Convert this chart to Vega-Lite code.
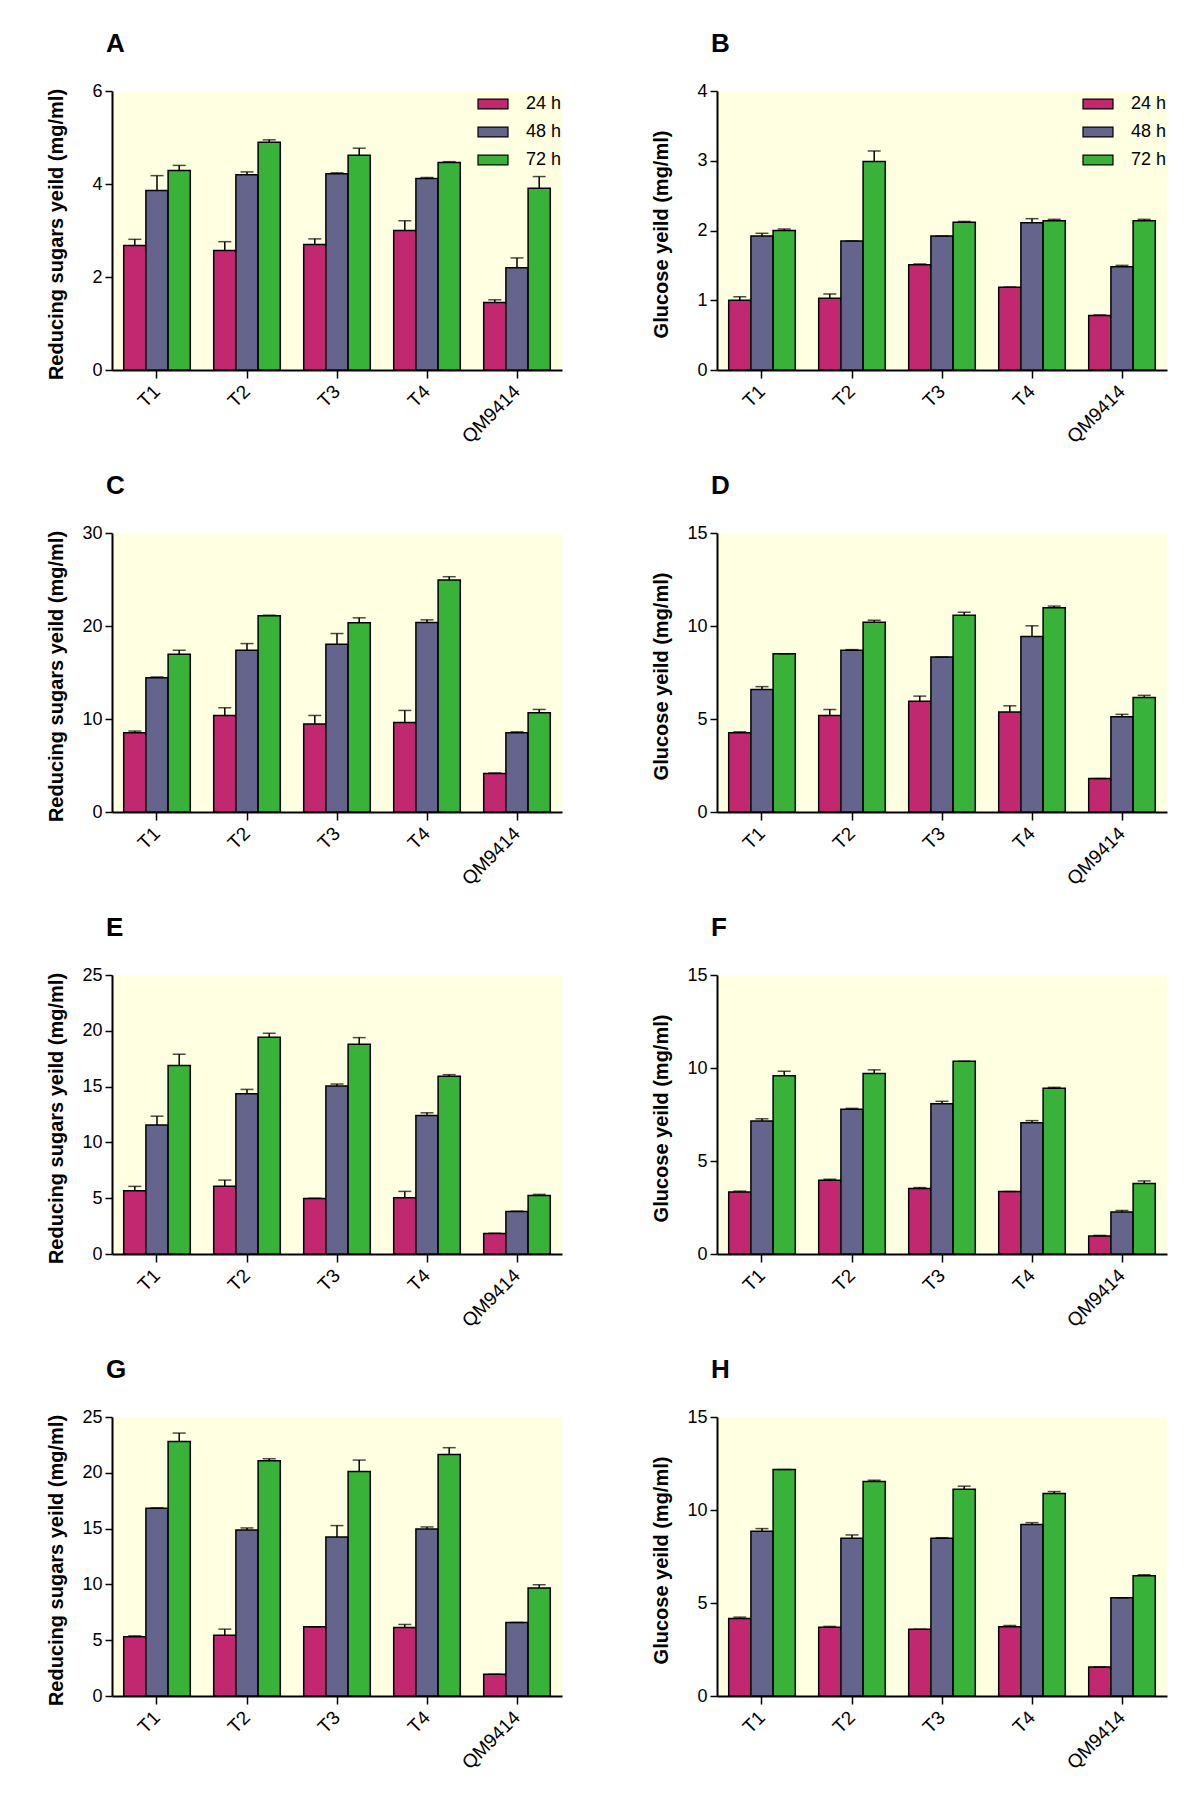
{
"$schema": "https://vega.github.io/schema/vega-lite/v6.json",
"padding": {"left": 45, "top": 31, "right": 10, "bottom": 10},
"background": "white",
"datasets": {"d": [
{"p":"A","s":"T1","t":"24 h","v":2.68,"u":2.81},{"p":"A","s":"T1","t":"48 h","v":3.86,"u":4.18},{"p":"A","s":"T1","t":"72 h","v":4.29,"u":4.40},
{"p":"A","s":"T2","t":"24 h","v":2.57,"u":2.76},{"p":"A","s":"T2","t":"48 h","v":4.20,"u":4.26},{"p":"A","s":"T2","t":"72 h","v":4.90,"u":4.95},
{"p":"A","s":"T3","t":"24 h","v":2.70,"u":2.82},{"p":"A","s":"T3","t":"48 h","v":4.22,"u":4.24},{"p":"A","s":"T3","t":"72 h","v":4.62,"u":4.77},
{"p":"A","s":"T4","t":"24 h","v":3.00,"u":3.21},{"p":"A","s":"T4","t":"48 h","v":4.12,"u":4.14},{"p":"A","s":"T4","t":"72 h","v":4.46,"u":4.48},
{"p":"A","s":"QM9414","t":"24 h","v":1.45,"u":1.51},{"p":"A","s":"QM9414","t":"48 h","v":2.20,"u":2.41},{"p":"A","s":"QM9414","t":"72 h","v":3.91,"u":4.16},
{"p":"B","s":"T1","t":"24 h","v":1.00,"u":1.05},{"p":"B","s":"T1","t":"48 h","v":1.92,"u":1.96},{"p":"B","s":"T1","t":"72 h","v":2.00,"u":2.02},
{"p":"B","s":"T2","t":"24 h","v":1.03,"u":1.09},{"p":"B","s":"T2","t":"48 h","v":1.85,"u":1.85},{"p":"B","s":"T2","t":"72 h","v":2.99,"u":3.14},
{"p":"B","s":"T3","t":"24 h","v":1.51,"u":1.52},{"p":"B","s":"T3","t":"48 h","v":1.92,"u":1.92},{"p":"B","s":"T3","t":"72 h","v":2.12,"u":2.13},
{"p":"B","s":"T4","t":"24 h","v":1.185,"u":1.19},{"p":"B","s":"T4","t":"48 h","v":2.11,"u":2.17},{"p":"B","s":"T4","t":"72 h","v":2.14,"u":2.16},
{"p":"B","s":"QM9414","t":"24 h","v":0.78,"u":0.79},{"p":"B","s":"QM9414","t":"48 h","v":1.48,"u":1.50},{"p":"B","s":"QM9414","t":"72 h","v":2.14,"u":2.16},
{"p":"C","s":"T1","t":"24 h","v":8.52,"u":8.70},{"p":"C","s":"T1","t":"48 h","v":14.44,"u":14.52},{"p":"C","s":"T1","t":"72 h","v":16.96,"u":17.39},
{"p":"C","s":"T2","t":"24 h","v":10.38,"u":11.21},{"p":"C","s":"T2","t":"48 h","v":17.39,"u":18.11},{"p":"C","s":"T2","t":"72 h","v":21.09,"u":21.16},
{"p":"C","s":"T3","t":"24 h","v":9.45,"u":10.38},{"p":"C","s":"T3","t":"48 h","v":18.04,"u":19.19},{"p":"C","s":"T3","t":"72 h","v":20.34,"u":20.88},
{"p":"C","s":"T4","t":"24 h","v":9.63,"u":10.92},{"p":"C","s":"T4","t":"48 h","v":20.37,"u":20.66},{"p":"C","s":"T4","t":"72 h","v":24.94,"u":25.30},
{"p":"C","s":"QM9414","t":"24 h","v":4.13,"u":4.20},{"p":"C","s":"QM9414","t":"48 h","v":8.52,"u":8.62},{"p":"C","s":"QM9414","t":"72 h","v":10.67,"u":11.03},
{"p":"D","s":"T1","t":"24 h","v":4.26,"u":4.31},{"p":"D","s":"T1","t":"48 h","v":6.59,"u":6.74},{"p":"D","s":"T1","t":"72 h","v":8.51,"u":8.51},
{"p":"D","s":"T2","t":"24 h","v":5.19,"u":5.51},{"p":"D","s":"T2","t":"48 h","v":8.69,"u":8.73},{"p":"D","s":"T2","t":"72 h","v":10.20,"u":10.31},
{"p":"D","s":"T3","t":"24 h","v":5.96,"u":6.23},{"p":"D","s":"T3","t":"48 h","v":8.33,"u":8.33},{"p":"D","s":"T3","t":"72 h","v":10.58,"u":10.74},
{"p":"D","s":"T4","t":"24 h","v":5.37,"u":5.71},{"p":"D","s":"T4","t":"48 h","v":9.43,"u":10.01},{"p":"D","s":"T4","t":"72 h","v":10.98,"u":11.07},
{"p":"D","s":"QM9414","t":"24 h","v":1.80,"u":1.80},{"p":"D","s":"QM9414","t":"48 h","v":5.12,"u":5.25},{"p":"D","s":"QM9414","t":"72 h","v":6.16,"u":6.27},
{"p":"E","s":"T1","t":"24 h","v":5.67,"u":6.06},{"p":"E","s":"T1","t":"48 h","v":11.57,"u":12.35},{"p":"E","s":"T1","t":"72 h","v":16.88,"u":17.90},
{"p":"E","s":"T2","t":"24 h","v":6.06,"u":6.62},{"p":"E","s":"T2","t":"48 h","v":14.36,"u":14.75},{"p":"E","s":"T2","t":"72 h","v":19.42,"u":19.78},
{"p":"E","s":"T3","t":"24 h","v":4.98,"u":5.00},{"p":"E","s":"T3","t":"48 h","v":15.05,"u":15.23},{"p":"E","s":"T3","t":"72 h","v":18.80,"u":19.39},
{"p":"E","s":"T4","t":"24 h","v":5.04,"u":5.61},{"p":"E","s":"T4","t":"48 h","v":12.41,"u":12.65},{"p":"E","s":"T4","t":"72 h","v":15.92,"u":16.07},
{"p":"E","s":"QM9414","t":"24 h","v":1.83,"u":1.86},{"p":"E","s":"QM9414","t":"48 h","v":3.81,"u":3.84},{"p":"E","s":"QM9414","t":"72 h","v":5.25,"u":5.34},
{"p":"F","s":"T1","t":"24 h","v":3.34,"u":3.38},{"p":"F","s":"T1","t":"48 h","v":7.15,"u":7.27},{"p":"F","s":"T1","t":"72 h","v":9.59,"u":9.83},
{"p":"F","s":"T2","t":"24 h","v":3.97,"u":4.02},{"p":"F","s":"T2","t":"48 h","v":7.78,"u":7.83},{"p":"F","s":"T2","t":"72 h","v":9.70,"u":9.90},
{"p":"F","s":"T3","t":"24 h","v":3.52,"u":3.57},{"p":"F","s":"T3","t":"48 h","v":8.08,"u":8.21},{"p":"F","s":"T3","t":"72 h","v":10.36,"u":10.36},
{"p":"F","s":"T4","t":"24 h","v":3.36,"u":3.36},{"p":"F","s":"T4","t":"48 h","v":7.06,"u":7.17},{"p":"F","s":"T4","t":"72 h","v":8.91,"u":8.96},
{"p":"F","s":"QM9414","t":"24 h","v":0.97,"u":1.00},{"p":"F","s":"QM9414","t":"48 h","v":2.26,"u":2.34},{"p":"F","s":"QM9414","t":"72 h","v":3.79,"u":3.93},
{"p":"G","s":"T1","t":"24 h","v":5.30,"u":5.39},{"p":"G","s":"T1","t":"48 h","v":16.83,"u":16.86},{"p":"G","s":"T1","t":"72 h","v":22.81,"u":23.56},
{"p":"G","s":"T2","t":"24 h","v":5.45,"u":5.99},{"p":"G","s":"T2","t":"48 h","v":14.88,"u":15.06},{"p":"G","s":"T2","t":"72 h","v":21.08,"u":21.26},
{"p":"G","s":"T3","t":"24 h","v":6.20,"u":6.20},{"p":"G","s":"T3","t":"48 h","v":14.25,"u":15.27},{"p":"G","s":"T3","t":"72 h","v":20.12,"u":21.14},
{"p":"G","s":"T4","t":"24 h","v":6.14,"u":6.41},{"p":"G","s":"T4","t":"48 h","v":14.97,"u":15.15},{"p":"G","s":"T4","t":"72 h","v":21.65,"u":22.25},
{"p":"G","s":"QM9414","t":"24 h","v":1.95,"u":1.95},{"p":"G","s":"QM9414","t":"48 h","v":6.59,"u":6.59},{"p":"G","s":"QM9414","t":"72 h","v":9.67,"u":9.97},
{"p":"H","s":"T1","t":"24 h","v":4.17,"u":4.24},{"p":"H","s":"T1","t":"48 h","v":8.86,"u":9.00},{"p":"H","s":"T1","t":"72 h","v":12.18,"u":12.18},
{"p":"H","s":"T2","t":"24 h","v":3.70,"u":3.74},{"p":"H","s":"T2","t":"48 h","v":8.48,"u":8.66},{"p":"H","s":"T2","t":"72 h","v":11.53,"u":11.60},
{"p":"H","s":"T3","t":"24 h","v":3.59,"u":3.59},{"p":"H","s":"T3","t":"48 h","v":8.48,"u":8.51},{"p":"H","s":"T3","t":"72 h","v":11.12,"u":11.28},
{"p":"H","s":"T4","t":"24 h","v":3.72,"u":3.79},{"p":"H","s":"T4","t":"48 h","v":9.22,"u":9.32},{"p":"H","s":"T4","t":"72 h","v":10.89,"u":10.99},
{"p":"H","s":"QM9414","t":"24 h","v":1.56,"u":1.56},{"p":"H","s":"QM9414","t":"48 h","v":5.28,"u":5.28},{"p":"H","s":"QM9414","t":"72 h","v":6.47,"u":6.52}
]},
"data": {"name": "d"},
"columns": 2,
"bounds": "flush",
"spacing": {"row": 163, "column": 155},
"resolve": {"scale": {"color": "independent"}, "legend": {"color": "independent"}},
"concat": [
{"title": "A", "width": 450, "height": 279, "transform": [{"filter": "datum.p === 'A'"}],
 "encoding": {"x": {"field": "s", "type": "nominal", "sort": ["T1","T2","T3","T4","QM9414"], "title": null, "scale": {"paddingInner": 0.26, "paddingOuter": 0.13}}, "xOffset": {"field": "t", "type": "nominal"}},
 "layer": [
  {"mark": {"type": "bar", "stroke": "black", "strokeWidth": 1.5}, "encoding": {"y": {"field": "v", "type": "quantitative", "scale": {"domain": [0, 6], "nice": false}, "axis": {"values": [0,2,4,6], "format": "d"}, "title": "Reducing sugars yeild (mg/ml)"}, "color": {"field": "t", "type": "nominal", "scale": {"domain": ["24 h","48 h","72 h"], "range": ["#C2286F","#64648C","#38B238"]}, "legend": {"orient": "none", "legendX": 365, "legendY": -3, "title": null}}}},
  {"mark": {"type": "rule", "color": "black", "strokeWidth": 1.5}, "encoding": {"y": {"field": "v", "type": "quantitative", "title": "Reducing sugars yeild (mg/ml)"}, "y2": {"field": "u"}}},
  {"mark": {"type": "tick", "color": "black", "size": 13, "thickness": 1.5}, "encoding": {"y": {"field": "u", "type": "quantitative", "title": "Reducing sugars yeild (mg/ml)"}}}
 ]},
{"title": "B", "width": 450, "height": 279, "transform": [{"filter": "datum.p === 'B'"}],
 "encoding": {"x": {"field": "s", "type": "nominal", "sort": ["T1","T2","T3","T4","QM9414"], "title": null, "scale": {"paddingInner": 0.26, "paddingOuter": 0.13}}, "xOffset": {"field": "t", "type": "nominal"}},
 "layer": [
  {"mark": {"type": "bar", "stroke": "black", "strokeWidth": 1.5}, "encoding": {"y": {"field": "v", "type": "quantitative", "scale": {"domain": [0, 4], "nice": false}, "axis": {"values": [0,1,2,3,4], "format": "d"}, "title": "Glucose yeild (mg/ml)"}, "color": {"field": "t", "type": "nominal", "scale": {"domain": ["24 h","48 h","72 h"], "range": ["#C2286F","#64648C","#38B238"]}, "legend": {"orient": "none", "legendX": 365, "legendY": -3, "title": null}}}},
  {"mark": {"type": "rule", "color": "black", "strokeWidth": 1.5}, "encoding": {"y": {"field": "v", "type": "quantitative", "title": "Glucose yeild (mg/ml)"}, "y2": {"field": "u"}}},
  {"mark": {"type": "tick", "color": "black", "size": 13, "thickness": 1.5}, "encoding": {"y": {"field": "u", "type": "quantitative", "title": "Glucose yeild (mg/ml)"}}}
 ]},
{"title": "C", "width": 450, "height": 279, "transform": [{"filter": "datum.p === 'C'"}],
 "encoding": {"x": {"field": "s", "type": "nominal", "sort": ["T1","T2","T3","T4","QM9414"], "title": null, "scale": {"paddingInner": 0.26, "paddingOuter": 0.13}}, "xOffset": {"field": "t", "type": "nominal"}},
 "layer": [
  {"mark": {"type": "bar", "stroke": "black", "strokeWidth": 1.5}, "encoding": {"y": {"field": "v", "type": "quantitative", "scale": {"domain": [0, 30], "nice": false}, "axis": {"values": [0,10,20,30], "format": "d"}, "title": "Reducing sugars yeild (mg/ml)"}, "color": {"field": "t", "type": "nominal", "scale": {"domain": ["24 h","48 h","72 h"], "range": ["#C2286F","#64648C","#38B238"]}, "legend": null}}},
  {"mark": {"type": "rule", "color": "black", "strokeWidth": 1.5}, "encoding": {"y": {"field": "v", "type": "quantitative", "title": "Reducing sugars yeild (mg/ml)"}, "y2": {"field": "u"}}},
  {"mark": {"type": "tick", "color": "black", "size": 13, "thickness": 1.5}, "encoding": {"y": {"field": "u", "type": "quantitative", "title": "Reducing sugars yeild (mg/ml)"}}}
 ]},
{"title": "D", "width": 450, "height": 279, "transform": [{"filter": "datum.p === 'D'"}],
 "encoding": {"x": {"field": "s", "type": "nominal", "sort": ["T1","T2","T3","T4","QM9414"], "title": null, "scale": {"paddingInner": 0.26, "paddingOuter": 0.13}}, "xOffset": {"field": "t", "type": "nominal"}},
 "layer": [
  {"mark": {"type": "bar", "stroke": "black", "strokeWidth": 1.5}, "encoding": {"y": {"field": "v", "type": "quantitative", "scale": {"domain": [0, 15], "nice": false}, "axis": {"values": [0,5,10,15], "format": "d"}, "title": "Glucose yeild (mg/ml)"}, "color": {"field": "t", "type": "nominal", "scale": {"domain": ["24 h","48 h","72 h"], "range": ["#C2286F","#64648C","#38B238"]}, "legend": null}}},
  {"mark": {"type": "rule", "color": "black", "strokeWidth": 1.5}, "encoding": {"y": {"field": "v", "type": "quantitative", "title": "Glucose yeild (mg/ml)"}, "y2": {"field": "u"}}},
  {"mark": {"type": "tick", "color": "black", "size": 13, "thickness": 1.5}, "encoding": {"y": {"field": "u", "type": "quantitative", "title": "Glucose yeild (mg/ml)"}}}
 ]},
{"title": "E", "width": 450, "height": 279, "transform": [{"filter": "datum.p === 'E'"}],
 "encoding": {"x": {"field": "s", "type": "nominal", "sort": ["T1","T2","T3","T4","QM9414"], "title": null, "scale": {"paddingInner": 0.26, "paddingOuter": 0.13}}, "xOffset": {"field": "t", "type": "nominal"}},
 "layer": [
  {"mark": {"type": "bar", "stroke": "black", "strokeWidth": 1.5}, "encoding": {"y": {"field": "v", "type": "quantitative", "scale": {"domain": [0, 25], "nice": false}, "axis": {"values": [0,5,10,15,20,25], "format": "d"}, "title": "Reducing sugars yeild (mg/ml)"}, "color": {"field": "t", "type": "nominal", "scale": {"domain": ["24 h","48 h","72 h"], "range": ["#C2286F","#64648C","#38B238"]}, "legend": null}}},
  {"mark": {"type": "rule", "color": "black", "strokeWidth": 1.5}, "encoding": {"y": {"field": "v", "type": "quantitative", "title": "Reducing sugars yeild (mg/ml)"}, "y2": {"field": "u"}}},
  {"mark": {"type": "tick", "color": "black", "size": 13, "thickness": 1.5}, "encoding": {"y": {"field": "u", "type": "quantitative", "title": "Reducing sugars yeild (mg/ml)"}}}
 ]},
{"title": "F", "width": 450, "height": 279, "transform": [{"filter": "datum.p === 'F'"}],
 "encoding": {"x": {"field": "s", "type": "nominal", "sort": ["T1","T2","T3","T4","QM9414"], "title": null, "scale": {"paddingInner": 0.26, "paddingOuter": 0.13}}, "xOffset": {"field": "t", "type": "nominal"}},
 "layer": [
  {"mark": {"type": "bar", "stroke": "black", "strokeWidth": 1.5}, "encoding": {"y": {"field": "v", "type": "quantitative", "scale": {"domain": [0, 15], "nice": false}, "axis": {"values": [0,5,10,15], "format": "d"}, "title": "Glucose yeild (mg/ml)"}, "color": {"field": "t", "type": "nominal", "scale": {"domain": ["24 h","48 h","72 h"], "range": ["#C2286F","#64648C","#38B238"]}, "legend": null}}},
  {"mark": {"type": "rule", "color": "black", "strokeWidth": 1.5}, "encoding": {"y": {"field": "v", "type": "quantitative", "title": "Glucose yeild (mg/ml)"}, "y2": {"field": "u"}}},
  {"mark": {"type": "tick", "color": "black", "size": 13, "thickness": 1.5}, "encoding": {"y": {"field": "u", "type": "quantitative", "title": "Glucose yeild (mg/ml)"}}}
 ]},
{"title": "G", "width": 450, "height": 279, "transform": [{"filter": "datum.p === 'G'"}],
 "encoding": {"x": {"field": "s", "type": "nominal", "sort": ["T1","T2","T3","T4","QM9414"], "title": null, "scale": {"paddingInner": 0.26, "paddingOuter": 0.13}}, "xOffset": {"field": "t", "type": "nominal"}},
 "layer": [
  {"mark": {"type": "bar", "stroke": "black", "strokeWidth": 1.5}, "encoding": {"y": {"field": "v", "type": "quantitative", "scale": {"domain": [0, 25], "nice": false}, "axis": {"values": [0,5,10,15,20,25], "format": "d"}, "title": "Reducing sugars yeild (mg/ml)"}, "color": {"field": "t", "type": "nominal", "scale": {"domain": ["24 h","48 h","72 h"], "range": ["#C2286F","#64648C","#38B238"]}, "legend": null}}},
  {"mark": {"type": "rule", "color": "black", "strokeWidth": 1.5}, "encoding": {"y": {"field": "v", "type": "quantitative", "title": "Reducing sugars yeild (mg/ml)"}, "y2": {"field": "u"}}},
  {"mark": {"type": "tick", "color": "black", "size": 13, "thickness": 1.5}, "encoding": {"y": {"field": "u", "type": "quantitative", "title": "Reducing sugars yeild (mg/ml)"}}}
 ]},
{"title": "H", "width": 450, "height": 279, "transform": [{"filter": "datum.p === 'H'"}],
 "encoding": {"x": {"field": "s", "type": "nominal", "sort": ["T1","T2","T3","T4","QM9414"], "title": null, "scale": {"paddingInner": 0.26, "paddingOuter": 0.13}}, "xOffset": {"field": "t", "type": "nominal"}},
 "layer": [
  {"mark": {"type": "bar", "stroke": "black", "strokeWidth": 1.5}, "encoding": {"y": {"field": "v", "type": "quantitative", "scale": {"domain": [0, 15], "nice": false}, "axis": {"values": [0,5,10,15], "format": "d"}, "title": "Glucose yeild (mg/ml)"}, "color": {"field": "t", "type": "nominal", "scale": {"domain": ["24 h","48 h","72 h"], "range": ["#C2286F","#64648C","#38B238"]}, "legend": null}}},
  {"mark": {"type": "rule", "color": "black", "strokeWidth": 1.5}, "encoding": {"y": {"field": "v", "type": "quantitative", "title": "Glucose yeild (mg/ml)"}, "y2": {"field": "u"}}},
  {"mark": {"type": "tick", "color": "black", "size": 13, "thickness": 1.5}, "encoding": {"y": {"field": "u", "type": "quantitative", "title": "Glucose yeild (mg/ml)"}}}
 ]}
],
"config": {
 "font": "Liberation Sans",
 "view": {"fill": "#FFFFE1", "stroke": null},
 "title": {"anchor": "start", "frame": "group", "fontSize": 26, "font": "Liberation Sans", "fontWeight": "bold", "color": "black", "offset": 25, "dx": -6},
 "axis": {"grid": false, "domainColor": "black", "domainWidth": 2, "tickColor": "black", "tickWidth": 1.5, "labelColor": "black", "labelFont": "Liberation Sans", "labelFontSize": 18, "titleFont": "Liberation Sans", "titleFontSize": 20, "titleFontWeight": "bold", "titleColor": "black"},
 "axisY": {"tickSize": 7, "labelPadding": 3, "titleX": -46, "titleY": 143, "titleAngle": -90, "titleAlign": "center", "titleBaseline": "bottom"},
 "axisX": {"tickSize": 8, "labelAngle": -45, "labelAlign": "right", "labelBaseline": "middle", "labelPadding": 10, "labelFontSize": 19},
 "legend": {"symbolType": "M-1,-0.32H1V0.32H-1Z", "symbolSize": 900, "symbolStrokeColor": "black", "symbolStrokeWidth": 1.2, "symbolOpacity": 1, "labelFontSize": 18, "labelFont": "Liberation Sans", "labelColor": "black", "labelOffset": 17, "rowPadding": 3, "padding": 0},
 "bar": {"opacity": 1}
}
}
